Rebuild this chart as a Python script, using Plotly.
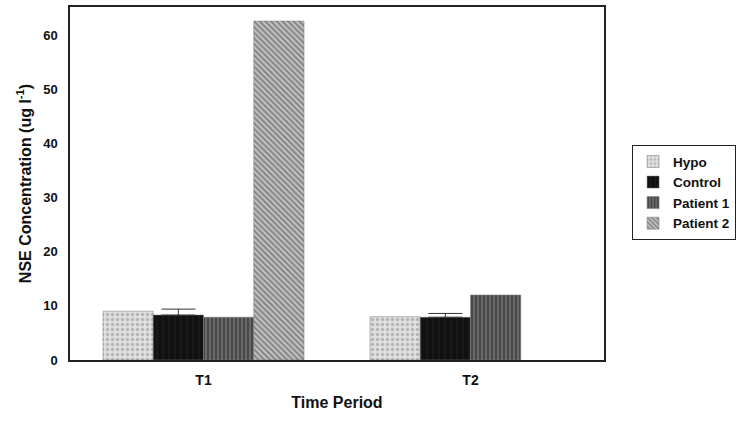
import plotly.graph_objects as go

# Time periods and NSE concentrations per group
periods = ["T1", "T2"]
groups = ["Hypo", "Control", "Patient 1", "Patient 2"]
hypo = [9.0, 8.0]
control = [8.3, 7.9]
control_err = [1.1, 0.7]
patient1 = [7.9, 12.0]
patient2 = [62.6, None]

y_ticks = [0, 10, 20, 30, 40, 50, 60]

FONT = "Liberation Sans, Arial, sans-serif"

styles = {
    "Hypo": dict(color="#dcdcdc", pattern=dict(shape=".", fgcolor="#8a8a8a", bgcolor="#e0e0e0", size=5, solidity=0.35)),
    "Control": dict(color="#141414", pattern=dict(shape="|", fgcolor="#2a2a2a", bgcolor="#111111", size=6, solidity=0.2)),
    "Patient 1": dict(color="#4a4a4a", pattern=dict(shape="|", fgcolor="#222222", bgcolor="#686868", size=4, solidity=0.45)),
    "Patient 2": dict(color="#8a8a8a", pattern=dict(shape="\\", fgcolor="#444444", bgcolor="#c4c4c4", size=4, solidity=0.5)),
}

series = {"Hypo": hypo, "Control": control, "Patient 1": patient1, "Patient 2": patient2}

fig = go.Figure()
for name in groups:
    st = styles[name]
    kwargs = {}
    if name == "Control":
        kwargs["error_y"] = dict(type="data", array=control_err, arrayminus=[0, 0],
                                 symmetric=False, color="#333333", thickness=1, width=17)
    fig.add_trace(go.Bar(
        x=periods, y=series[name], name=name,
        marker=dict(color=st["color"], pattern=st["pattern"],
                    line=dict(color="#777777", width=0.5)),
        **kwargs,
    ))

fig.update_layout(
    width=741, height=421,
    margin=dict(l=70, r=137, t=7, b=61, autoexpand=False),
    paper_bgcolor="white", plot_bgcolor="white",
    barmode="group", bargap=0.247, bargroupgap=0,
    font=dict(family=FONT, size=13, color="#111111"),
    showlegend=True,
    legend=dict(
        xref="container", yref="container",
        x=0.853, y=0.655, xanchor="left", yanchor="top",
        bordercolor="#222222", borderwidth=1, bgcolor="white",
        font=dict(family=FONT, size=13.5, color="#111111", weight="bold"),
        tracegroupgap=0, itemwidth=30,
    ),
    xaxis=dict(
        showline=True, linecolor="#222222", linewidth=1.5, mirror=True,
        ticks="", ticklabelstandoff=6, automargin=False,
        tickfont=dict(family=FONT, size=14, weight="bold"),
        title=dict(text="Time Period", font=dict(family=FONT, size=16, weight="bold"), standoff=10),
    ),
    yaxis=dict(
        range=[0, 65.2], tickvals=y_ticks, automargin=False,
        showline=True, linecolor="#222222", linewidth=1.5, mirror=True,
        showgrid=False, zeroline=False, ticks="", ticklabelstandoff=8,
        tickfont=dict(family=FONT, size=13, weight="bold"),
        title=dict(text="NSE Concentration (ug l<sup>-1</sup>)",
                   font=dict(family=FONT, size=16, weight="bold"), standoff=8),
    ),
)

fig.write_html("out.html")
